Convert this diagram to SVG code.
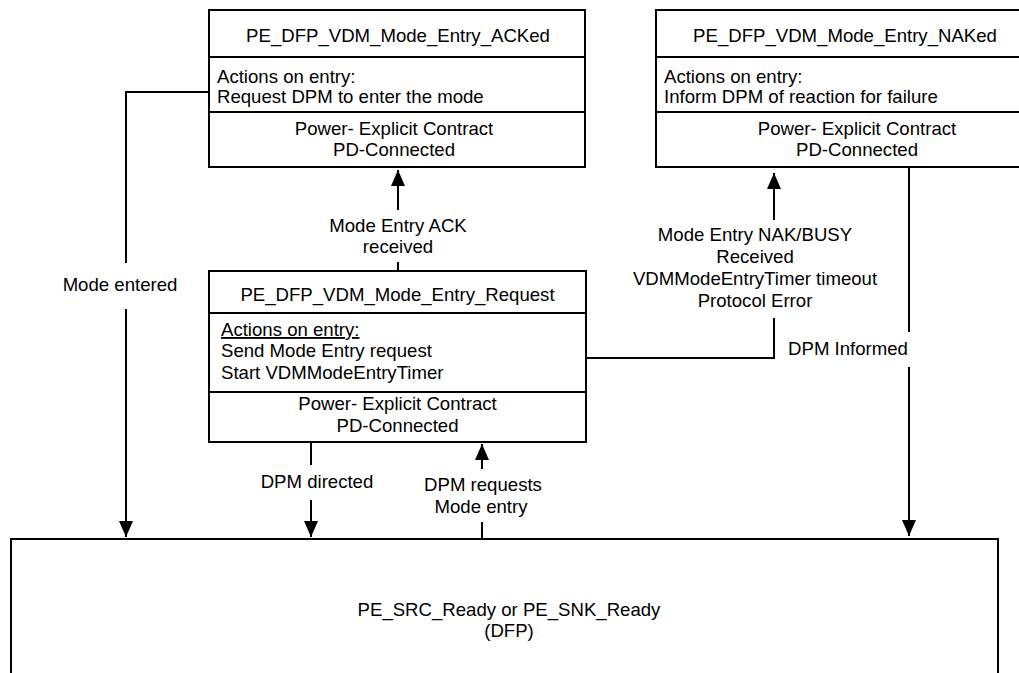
<svg xmlns="http://www.w3.org/2000/svg" width="1019" height="673" viewBox="0 0 1019 673">
<style>
.box{fill:#fff;stroke:#000;stroke-width:2}
.sep{stroke:#000;stroke-width:2}
.ln{fill:none;stroke:#000;stroke-width:2}
text{font-family:"Liberation Sans",Arial,sans-serif;font-size:18.6px;fill:#000}
.c{text-anchor:middle}
.u{text-decoration:underline}
</style>
<defs>
<marker id="ah" viewBox="0 0 16 14" refX="16" refY="7" markerWidth="16" markerHeight="14" markerUnits="userSpaceOnUse" orient="auto">
<path d="M0,0 L16,7 L0,14 z" fill="#000"/>
</marker>
</defs>
<rect width="1019" height="673" fill="#fff"/>
<g id="connectors">
<path class="ln" d="M209,92 H126 V263"/>
<path class="ln" d="M126,309 V537" marker-end="url(#ah)"/>
<path class="ln" d="M398,271 V262"/>
<path class="ln" d="M398,210 V170" marker-end="url(#ah)"/>
<path class="ln" d="M586,358 H774 V318"/>
<path class="ln" d="M774,220 V173" marker-end="url(#ah)"/>
<path class="ln" d="M311,442 V465"/>
<path class="ln" d="M311,500 V537" marker-end="url(#ah)"/>
<path class="ln" d="M482,539 V522"/>
<path class="ln" d="M482,469 V444" marker-end="url(#ah)"/>
<path class="ln" d="M909,167 V332"/>
<path class="ln" d="M909,367 V536" marker-end="url(#ah)"/>
<text class="c" x="120" y="291">Mode entered</text>
<text class="c" x="398" y="232">Mode Entry ACK</text>
<text class="c" x="398" y="253">received</text>
<text class="c" x="755" y="241">Mode Entry NAK/BUSY</text>
<text class="c" x="755" y="263">Received</text>
<text class="c" x="755" y="285">VDMModeEntryTimer timeout</text>
<text class="c" x="755" y="307">Protocol Error</text>
<text class="c" x="317" y="488">DPM directed</text>
<text class="c" x="483" y="491">DPM requests</text>
<text class="c" x="481" y="513">Mode entry</text>
<text class="c" x="848" y="355">DPM Informed</text>
</g>
<g id="acked">
<rect class="box" x="209" y="10" width="376" height="157"/>
<line class="sep" x1="209" y1="57" x2="585" y2="57"/>
<line class="sep" x1="209" y1="112" x2="585" y2="112"/>
<text class="c" x="398" y="42">PE_DFP_VDM_Mode_Entry_ACKed</text>
<text x="217" y="83">Actions on entry:</text>
<text x="217" y="103">Request DPM to enter the mode</text>
<text class="c" x="394" y="135">Power- Explicit Contract</text>
<text class="c" x="394" y="156">PD-Connected</text>
</g>
<g id="naked">
<rect class="box" x="656" y="10" width="400" height="157"/>
<line class="sep" x1="656" y1="57" x2="1056" y2="57"/>
<line class="sep" x1="656" y1="112" x2="1056" y2="112"/>
<text class="c" x="845" y="42">PE_DFP_VDM_Mode_Entry_NAKed</text>
<text x="664" y="83">Actions on entry:</text>
<text x="664" y="103">Inform DPM of reaction for failure</text>
<text class="c" x="857" y="135">Power- Explicit Contract</text>
<text class="c" x="857" y="156">PD-Connected</text>
</g>
<g id="request">
<rect class="box" x="209" y="271" width="377" height="171"/>
<line class="sep" x1="209" y1="313" x2="586" y2="313"/>
<line class="sep" x1="209" y1="392" x2="586" y2="392"/>
<text class="c" x="397.5" y="301">PE_DFP_VDM_Mode_Entry_Request</text>
<text class="u" x="221" y="336">Actions on entry:</text>
<text x="221" y="357">Send Mode Entry request</text>
<text x="221" y="379">Start VDMModeEntryTimer</text>
<text class="c" x="397.5" y="410">Power- Explicit Contract</text>
<text class="c" x="397.5" y="432">PD-Connected</text>
</g>
<g id="ready">
<rect class="box" x="11" y="539" width="987" height="160"/>
<text class="c" x="509" y="616">PE_SRC_Ready or PE_SNK_Ready</text>
<text class="c" x="509" y="637">(DFP)</text>
</g>
</svg>
